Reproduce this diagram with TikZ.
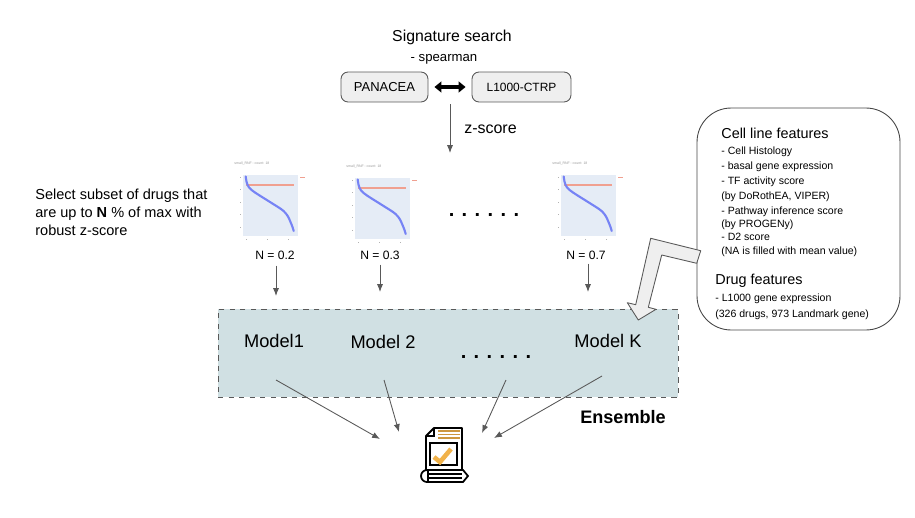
\documentclass[tikz,border=0pt]{standalone}
\usepackage{xcolor}
\usepackage{fontspec}
\setmainfont{Liberation Sans}
\usetikzlibrary{arrows.meta}

\definecolor{linegray}{HTML}{595959}
\definecolor{boxgray}{HTML}{EFEFEF}
\definecolor{ensfill}{HTML}{D0E0E3}
\definecolor{panelblue}{HTML}{E5ECF6}
\definecolor{curveblue}{HTML}{7683F5}
\definecolor{cutred}{HTML}{F0A090}
\definecolor{iconorange}{HTML}{F1B24A}

\tikzset{
  every node/.style={inner sep=0pt, text=black},
  boxnode/.style={draw=linegray, fill=boxgray, rounded corners=4pt, line width=0.5pt, minimum height=0.6cm},
  flowarrow/.style={-{Latex[length=4.5pt,width=3.5pt]}, draw=linegray, line width=0.5pt},
  headtext/.style={font=\fontsize{9}{11}\selectfont},
  subtext/.style={font=\fontsize{6}{7.5}\selectfont, anchor=west, text height=4.4pt, text depth=1.3pt},
  subhead/.style={font=\fontsize{8.2}{10}\selectfont, anchor=west, text height=6pt, text depth=1.8pt},
  modeltext/.style={font=\fontsize{10.4}{12}\selectfont},
  ntext/.style={font=\fontsize{6.9}{8}\selectfont},
  dotstext/.style={font=\fontsize{11.4}{14}\selectfont\bfseries, anchor=base},
}

% one small z-score plot, #1 = top left corner of its panel
\newcommand{\zplot}[1]{
  \begin{scope}[shift={#1}]
    \fill[panelblue] (0,0) rectangle (55,61);
    \draw[cutred, line width=0.7pt] (3,10) -- (51,10);
    \draw[curveblue, line width=1.2pt, line cap=round] plot[smooth] coordinates
      {(2.7,1.5) (3.6,7) (6,12.5) (12,17.5) (27,27) (38,34) (42,37.5) (45,41.5) (47.5,47) (49.5,52) (50.7,56)};
    \draw[cutred, line width=0.4pt] (57,2) -- (62,2);
    \foreach \tk in {3,24,45} \fill[gray!60] (\tk,63.5) rectangle +(1.2,0.6);
    \foreach \tk in {2,14,27,39,52} \fill[gray!60] (-3,\tk) rectangle +(1,0.6);
    \node[text=gray!80, font=\fontsize{2}{3}\selectfont, anchor=west] at (-9,-11) {small\_RNF : count: 18};
  \end{scope}
}

\begin{document}
\begin{tikzpicture}[x=0.02cm, y=-0.02cm]
  \useasboundingbox (0,0) rectangle (915,517);

  % Top part
  \node (Title)    [headtext] at (452,37.5) {Signature search};
  \node (Spearman) [font=\fontsize{7.5}{9}\selectfont] at (444,59) {- spearman};
  \node (Panacea)  [boxnode, minimum width=1.74cm, font=\fontsize{7.4}{9}\selectfont] at (384.5,87) {PANACEA};
  \node (Ctrp)     [boxnode, minimum width=1.98cm, font=\fontsize{6.8}{9}\selectfont] at (521.5,87) {L1000-CTRP};
  \node (Zscore)   [font=\fontsize{9.1}{11}\selectfont] at (490.5,129) {z-score};
  \draw[{Triangle[length=4pt,width=6.2pt]}-{Triangle[length=4pt,width=6.2pt]}, line width=2.2pt, shorten <=0.12cm, shorten >=0.12cm] (Panacea) -- (Ctrp);

  \coordinate (ZTop) at (450,104);
  \coordinate (ZEnd) at (450,153);
  \draw[flowarrow] (ZTop) -- (ZEnd);

  % Plots
  \zplot{(243,175)}
  \zplot{(355,178)}
  \zplot{(561,175)}
  \node (DotsTop) [dotstext] at (484,216) {. . . . . .};

  \node (Select) [align=left, anchor=west, font=\fontsize{8.27}{10.2}\selectfont] at (35,212)
    {Select subset of drugs that\\are up to \textbf{N} \% of max with\\robust z-score};

  \node (N1) [ntext] at (275,255) {N = 0.2};
  \node (N2) [ntext] at (380,255) {N = 0.3};
  \node (N3) [ntext] at (586,255) {N = 0.7};

  % Ensemble box
  \node (Ens) [draw=linegray, dashed, fill=ensfill, line width=0.45pt, minimum width=9.2cm, minimum height=1.76cm] at (448,353) {};
  \node (M1) [modeltext] at (274,341) {Model1};
  \node (M2) [modeltext] at (383,342) {Model 2};
  \node (MK) [modeltext] at (608,340.5) {Model K};
  \node (DotsEns) [dotstext] at (496,358) {. . . . . .};
  \node (Ensemble) [font=\fontsize{10.3}{12}\selectfont\bfseries] at (623,417) {Ensemble};

  % Arrows to the models
  \coordinate (A1) at (276,296);
  \coordinate (A2) at (380,292);
  \coordinate (A3) at (588,292);
  \draw[flowarrow] (N1.south) ++(1,6) -- (A1);
  \draw[flowarrow] (N2.south) ++(0,5) -- (A2);
  \draw[flowarrow] (N3.south) ++(2,4) -- (A3);

  % Arrows to the result
  \coordinate (S1) at (276,380);
  \coordinate (S2) at (384,380);
  \coordinate (S3) at (506,380);
  \coordinate (S4) at (602,376);
  \coordinate (E1) at (380,439);
  \coordinate (E2) at (399,432);
  \coordinate (E3) at (482,433);
  \coordinate (E4) at (494,438);
  \draw[flowarrow] (S1) -- (E1);
  \draw[flowarrow] (S2) -- (E2);
  \draw[flowarrow] (S3) -- (E3);
  \draw[flowarrow] (S4) -- (E4);

  % Result icon
  \draw[line width=1.1pt, line join=round] (426,470) -- (426,436) -- (434,428) -- (462,428) -- (462,470);
  \draw[line width=0.8pt] (434,428) -- (434,436) -- (426,436);
  \foreach \yy in {431,434.5,438} \draw[iconorange!85!black, line width=1pt] (438,\yy) -- (460,\yy);
  \draw[line width=1pt] (430,443) rectangle (457,465);
  \draw[iconorange, line width=2.6pt] (434,457) -- (440,462) -- (451,449);
  \draw[line width=1pt, fill=white] (427,470) -- (463,470) -- (468,476) -- (463,482) -- (427,482) arc (90:270:6) -- cycle;
  \draw[line width=0.6pt] (429,474) -- (462,474);
  \draw[line width=0.6pt] (429,478) -- (462,478);
  \draw[line width=0.8pt] (428,470) -- (428,482);

  % Cell line and drug features
  \node (Feat) [draw=linegray!80!black, fill=white, rounded corners=0.68cm, line width=0.5pt, minimum width=4.06cm, minimum height=4.44cm] at (798.5,219) {};
  \draw[draw=linegray, fill=boxgray, line width=0.5pt, line join=round]
    (700.7,250.7) -- (650.7,238.3) -- (635.7,304.7) -- (627.3,302.7) -- (638.3,320) -- (656,309.3) -- (648.3,307.3) -- (661.7,255) -- (696.7,263.3) -- cycle;

  \node (CellHead) [subhead] at (721,135) {Cell line features};
  \node (C1) [subtext] at (721,152) {- Cell Histology};
  \node (C2) [subtext] at (721,166.5) {- basal gene expression};
  \node (C3) [subtext] at (721,182) {- TF activity score};
  \node (C4) [subtext] at (721,196.5) {(by DoRothEA, VIPER)};
  \node (C5) [subtext] at (721,212) {- Pathway inference score};
  \node (C6) [subtext] at (721,224.5) {(by PROGENy)};
  \node (C7) [subtext] at (721,238) {- D2 score};
  \node (C8) [subtext] at (721,251.5) {(NA is filled with mean value)};
  \node (DrugHead) [subhead] at (715,281) {Drug features};
  \node (D1) [subtext] at (715,298.5) {- L1000 gene expression};
  \node (D2) [subtext] at (715,314.5) {(326 drugs, 973 Landmark gene)};
\end{tikzpicture}
\end{document}
